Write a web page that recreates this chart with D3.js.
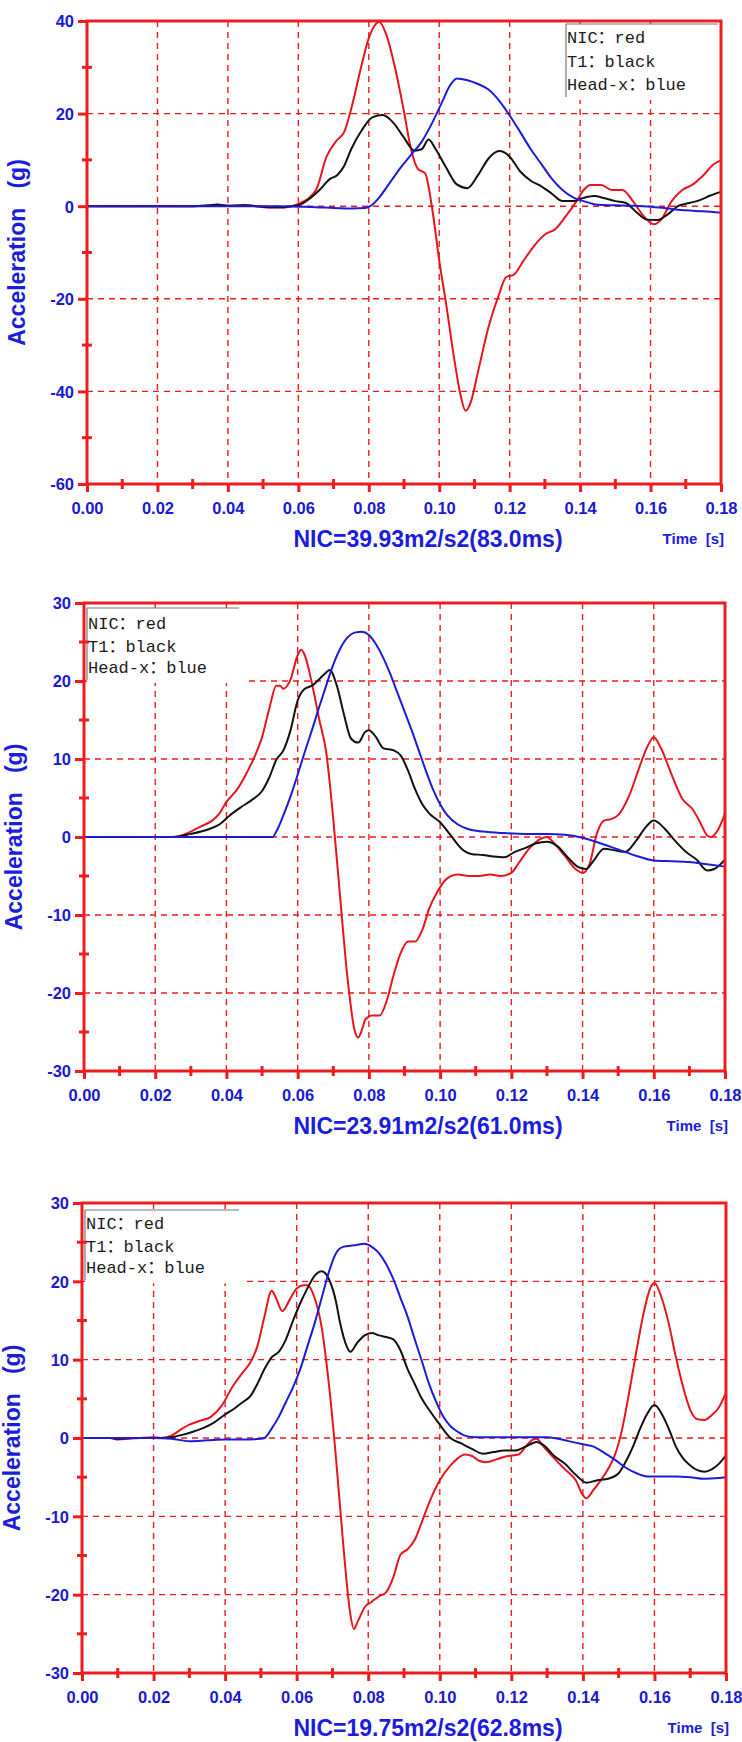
<!DOCTYPE html>
<html><head><meta charset="utf-8">
<script src="https://cdn.jsdelivr.net/npm/d3@7"></script>
<style>body{margin:0;background:#fff}svg{display:block}</style>
</head><body>
<svg id="c" width="742" height="1742"></svg>
<script>
// ---------- DATA ----------
const xTicks = [0, 0.02, 0.04, 0.06, 0.08, 0.10, 0.12, 0.14, 0.16, 0.18];
const xMinorTicks = [0.01, 0.03, 0.05, 0.07, 0.09, 0.11, 0.13, 0.15, 0.17];
const p1YTicks = [-60, -40, -20, 0, 20, 40];
const p1YMinor = [-50, -30, -10, 10, 30];
const p23YTicks = [-30, -20, -10, 0, 10, 20, 30];
const p23YMinor = [-25, -15, -5, 5, 15, 25];
const legendLabels = ["NIC：red", "T1：black", "Head-x：blue"];
const titles = ["NIC=39.93m2/s2(83.0ms)", "NIC=23.91m2/s2(61.0ms)", "NIC=19.75m2/s2(62.8ms)"];

// Panel 1
const p1Nic = [[0,0],[0.03,0],[0.035,0.2],[0.037,0.35],[0.040,0.1],[0.045,0.25],[0.048,0],[0.052,-0.3],[0.056,-0.3],[0.058,0],[0.060,0.5],[0.065,3.5],[0.068,10.7],[0.071,14.3],[0.073,16],[0.075,21],[0.078,30.6],[0.080,36.3],[0.083,39.8],[0.085,37],[0.088,28],[0.090,20.4],[0.092,12.3],[0.094,8],[0.096,7.1],[0.098,-0.5],[0.100,-11.7],[0.102,-21.3],[0.104,-31.7],[0.106,-40.6],[0.1075,-44.2],[0.109,-42.2],[0.111,-35.8],[0.114,-26.1],[0.117,-19],[0.119,-15.3],[0.121,-14.9],[0.124,-11.7],[0.127,-8.5],[0.130,-6.1],[0.133,-4.9],[0.136,-2.1],[0.139,1.1],[0.141,3.5],[0.143,4.6],[0.146,4.6],[0.149,3.5],[0.152,3.5],[0.155,1.1],[0.158,-2.1],[0.161,-3.9],[0.163,-2.9],[0.166,1.1],[0.169,3.5],[0.172,4.7],[0.175,6.7],[0.178,9.1],[0.180,9.9]];
const p1T1 = [[0,0],[0.03,0],[0.035,0.2],[0.037,0.3],[0.040,0.1],[0.045,0.2],[0.048,0],[0.052,-0.2],[0.056,-0.2],[0.058,0],[0.060,0.2],[0.063,1.5],[0.066,3.5],[0.069,5.9],[0.071,6.7],[0.073,8.7],[0.075,12.3],[0.078,16.4],[0.081,19.2],[0.084,19.7],[0.087,18],[0.090,14.8],[0.093,12],[0.095,12.3],[0.097,14.4],[0.099,12.3],[0.102,8.3],[0.105,4.7],[0.108,3.9],[0.111,6.7],[0.114,10.3],[0.117,11.9],[0.120,10.7],[0.123,7.5],[0.126,5.5],[0.129,4.3],[0.132,2.7],[0.135,1.1],[0.138,1.1],[0.141,1.8],[0.144,2.2],[0.147,1.7],[0.150,1.1],[0.153,0.7],[0.156,-1.3],[0.159,-2.9],[0.162,-3.0],[0.165,-1.7],[0.168,0.1],[0.171,0.7],[0.174,1.3],[0.177,2.3],[0.180,3.1]];
const p1Head = [[0,0],[0.055,0],[0.060,-0.1],[0.065,-0.2],[0.070,-0.4],[0.075,-0.5],[0.079,-0.4],[0.081,0.3],[0.083,1.9],[0.086,5.1],[0.089,8.3],[0.092,11.1],[0.095,13.9],[0.098,18],[0.101,22.8],[0.103,26],[0.105,27.6],[0.108,27.2],[0.111,26.4],[0.114,25.2],[0.117,22.8],[0.120,19.6],[0.123,16],[0.126,12.3],[0.129,9.1],[0.132,5.9],[0.135,3.5],[0.138,1.9],[0.141,1.1],[0.145,0.3],[0.150,0.2],[0.155,0.1],[0.160,-0.1],[0.165,-0.5],[0.170,-0.9],[0.175,-1.1],[0.180,-1.4]];

// Panel 2
const p2Nic = [[0,0],[0.025,0],[0.028,0.3],[0.030,0.7],[0.033,1.4],[0.036,2.1],[0.038,3.0],[0.040,4.5],[0.043,6.1],[0.046,8.5],[0.048,10.4],[0.050,12.8],[0.052,16.4],[0.054,19.4],[0.055,19.4],[0.056,19],[0.058,20.2],[0.060,23.3],[0.061,24],[0.062,23.3],[0.064,19.7],[0.066,15.2],[0.068,10.9],[0.070,2.3],[0.072,-8.1],[0.074,-18.1],[0.076,-24.8],[0.077,-25.7],[0.078,-24.8],[0.079,-23.4],[0.081,-22.9],[0.083,-22.9],[0.085,-21],[0.087,-17.6],[0.089,-14.8],[0.091,-13.4],[0.093,-13.4],[0.095,-11.9],[0.097,-9.1],[0.099,-7.2],[0.102,-5.3],[0.105,-4.8],[0.108,-5.0],[0.111,-5.0],[0.114,-4.8],[0.117,-5.0],[0.120,-4.6],[0.122,-3.4],[0.125,-1.5],[0.128,-0.3],[0.130,0],[0.132,-0.8],[0.135,-2.4],[0.138,-4.1],[0.140,-4.6],[0.142,-3.4],[0.144,0.4],[0.146,2.1],[0.148,2.3],[0.150,2.8],[0.153,5.2],[0.156,9],[0.158,11.4],[0.160,12.8],[0.162,11.4],[0.165,8],[0.168,4.9],[0.171,3.5],[0.173,1.9],[0.175,0.2],[0.176,0],[0.178,0.9],[0.180,3.0]];
const p2T1 = [[0,0],[0.025,0],[0.030,0.4],[0.035,1.0],[0.038,1.6],[0.041,2.8],[0.044,3.8],[0.047,4.7],[0.050,5.9],[0.052,7.6],[0.054,9.9],[0.056,11.1],[0.058,13.7],[0.060,17.5],[0.062,19],[0.064,19.4],[0.066,20.2],[0.068,21.1],[0.069,21.4],[0.071,19.4],[0.073,15.7],[0.075,12.6],[0.077,12.1],[0.079,13.5],[0.080,13.7],[0.082,12.8],[0.084,11.4],[0.087,11.1],[0.089,10.4],[0.091,8.5],[0.093,6.1],[0.095,4.2],[0.097,3.0],[0.100,1.9],[0.103,0.2],[0.106,-1.5],[0.109,-2.2],[0.112,-2.3],[0.115,-2.5],[0.118,-2.6],[0.121,-1.9],[0.124,-1.4],[0.127,-0.8],[0.130,-0.6],[0.133,-1.2],[0.136,-2.7],[0.139,-3.9],[0.141,-4.1],[0.143,-3.1],[0.146,-1.5],[0.149,-1.7],[0.152,-1.9],[0.155,-0.5],[0.158,1.4],[0.160,2.1],[0.163,1.1],[0.166,-0.5],[0.169,-1.9],[0.172,-2.9],[0.175,-4.3],[0.177,-4.1],[0.180,-2.9]];
const p2Head = [[0,0],[0.053,0],[0.054,0.7],[0.056,2.8],[0.058,5.2],[0.060,8],[0.062,10.9],[0.064,13.7],[0.066,16.6],[0.068,19.4],[0.070,22.1],[0.072,24.2],[0.074,25.6],[0.076,26.2],[0.078,26.3],[0.080,25.9],[0.082,24.7],[0.084,23],[0.086,20.9],[0.088,18.5],[0.090,16.1],[0.092,13.7],[0.094,11.1],[0.096,8.5],[0.098,6.1],[0.100,4.2],[0.102,2.8],[0.105,1.6],[0.108,1.0],[0.112,0.7],[0.118,0.5],[0.124,0.4],[0.130,0.4],[0.135,0.3],[0.140,-0.1],[0.145,-0.8],[0.150,-1.6],[0.155,-2.4],[0.160,-3.0],[0.165,-3.1],[0.170,-3.2],[0.175,-3.5],[0.180,-3.8]];

// Panel 3
const p3Nic = [[0,0],[0.008,0],[0.010,-0.2],[0.013,-0.1],[0.016,0],[0.020,0.1],[0.022,0],[0.025,0.3],[0.028,1.2],[0.030,1.7],[0.033,2.2],[0.036,2.7],[0.039,4.1],[0.042,6.5],[0.045,8.4],[0.047,9.6],[0.049,11.7],[0.051,15.5],[0.053,18.8],[0.054,18.1],[0.056,16.2],[0.058,17.6],[0.060,19.1],[0.062,19.5],[0.063,19.5],[0.065,17.9],[0.067,14.1],[0.069,6.9],[0.071,-2.6],[0.073,-13.5],[0.075,-22.5],[0.076,-24.4],[0.077,-23.5],[0.079,-21.6],[0.081,-20.9],[0.083,-20.2],[0.085,-19.7],[0.087,-17.8],[0.089,-14.9],[0.091,-14.2],[0.093,-13.0],[0.095,-10.7],[0.097,-8.3],[0.100,-5.4],[0.103,-3.5],[0.105,-2.6],[0.107,-2.1],[0.109,-2.3],[0.111,-2.9],[0.113,-3.1],[0.116,-2.7],[0.119,-2.3],[0.122,-2.1],[0.124,-1.1],[0.126,-0.2],[0.127,-0.1],[0.129,-1.1],[0.132,-2.6],[0.135,-4.0],[0.138,-5.4],[0.140,-7.3],[0.141,-7.7],[0.143,-6.6],[0.145,-5.4],[0.147,-4.0],[0.149,-2.1],[0.151,1.2],[0.153,6],[0.155,11.2],[0.157,16],[0.159,19.3],[0.160,19.8],[0.162,17.9],[0.164,14.6],[0.166,10.3],[0.168,6.5],[0.170,3.6],[0.172,2.4],[0.174,2.3],[0.176,2.9],[0.178,3.9],[0.180,5.8]];
const p3T1 = [[0,0],[0.008,0],[0.010,-0.1],[0.014,0],[0.022,0],[0.025,0.1],[0.028,0.4],[0.031,0.8],[0.034,1.3],[0.037,2.0],[0.040,3.0],[0.043,3.9],[0.045,4.6],[0.047,5.3],[0.049,6.9],[0.051,8.8],[0.053,10.3],[0.055,11.0],[0.057,12.6],[0.059,15],[0.061,17.2],[0.063,19.1],[0.065,20.7],[0.067,21.3],[0.069,20.3],[0.071,17.4],[0.072,15],[0.074,11.7],[0.075,11.0],[0.077,12.2],[0.079,13.1],[0.081,13.4],[0.083,13.1],[0.085,12.9],[0.087,12.6],[0.089,11.2],[0.091,8.8],[0.093,6.9],[0.095,5.0],[0.097,3.6],[0.100,1.7],[0.103,0],[0.106,-0.7],[0.109,-1.4],[0.112,-2.0],[0.115,-1.8],[0.118,-1.6],[0.121,-1.6],[0.124,-1.1],[0.127,-0.5],[0.129,-0.9],[0.132,-2.3],[0.135,-3.3],[0.138,-4.7],[0.141,-5.7],[0.144,-5.4],[0.147,-5.2],[0.150,-4.5],[0.152,-3.0],[0.154,-1.1],[0.156,1.2],[0.158,3.1],[0.160,4.2],[0.162,3.1],[0.164,1.2],[0.166,-1.1],[0.168,-2.6],[0.170,-3.5],[0.172,-4.1],[0.174,-4.3],[0.176,-4.0],[0.178,-3.3],[0.180,-2.2]];
const p3Head = [[0,0],[0.020,0],[0.025,-0.1],[0.030,-0.4],[0.035,-0.3],[0.040,-0.2],[0.045,-0.2],[0.050,-0.1],[0.051,0],[0.053,1.2],[0.055,2.7],[0.057,4.6],[0.059,6.5],[0.061,8.8],[0.063,11.7],[0.065,14.6],[0.067,17.9],[0.069,21.2],[0.071,23.6],[0.073,24.4],[0.076,24.6],[0.079,24.8],[0.081,24.4],[0.083,23.6],[0.085,22.2],[0.087,20.3],[0.089,17.9],[0.091,15.5],[0.093,12.6],[0.095,9.8],[0.097,6.9],[0.099,4.6],[0.101,2.7],[0.103,1.5],[0.105,0.8],[0.107,0.3],[0.110,0.1],[0.120,0.1],[0.130,0.1],[0.133,-0.1],[0.136,-0.4],[0.140,-0.8],[0.143,-1.1],[0.146,-1.9],[0.149,-2.8],[0.152,-3.8],[0.155,-4.5],[0.158,-4.9],[0.162,-4.9],[0.166,-4.9],[0.170,-5.0],[0.174,-5.2],[0.178,-5.1],[0.180,-5.0]];

// ---------- LAYOUT ----------
const RED = "#ee1c1f", BLUE_TXT = "#1a1ad2", LINE_COLORS = ["#e8161c", "#111111", "#1c1cd8"];
const layouts = [
  {left:87, right:721, top:21,  bottom:484,  yDomain:[-60,40], yTicks:p1YTicks,  yMinor:p1YMinor,  series:[p1Nic,p1T1,p1Head], legend:{x:566, y:24, w:152, h:76, textY:[43,67,90]}},
  {left:84, right:725, top:603, bottom:1071, yDomain:[-30,30], yTicks:p23YTicks, yMinor:p23YMinor, series:[p2Nic,p2T1,p2Head], legend:{x:87, y:608, w:158, h:0, textY:[629,652,673], toY20:true}},
  {left:82, right:726, top:1203,bottom:1673, yDomain:[-30,30], yTicks:p23YTicks, yMinor:p23YMinor, series:[p3Nic,p3T1,p3Head], legend:{x:85, y:1210, w:160, h:0, textY:[1229,1252,1273], toY20:true}}
];

const svg = d3.select("#c");

layouts.forEach((L, i) => {
  const g = svg.append("g");
  const x = d3.scaleLinear().domain([0, 0.18]).range([L.left, L.right]);
  const y = d3.scaleLinear().domain(L.yDomain).range([L.bottom, L.top]);

  // grid
  const gx = xTicks.filter(v => v > 0 && v < 0.18);
  const gy = L.yTicks.filter(v => v > L.yDomain[0] && v < L.yDomain[1]);
  g.selectAll(".vg").data(gx).join("line")
    .attr("x1", d => x(d)).attr("x2", d => x(d)).attr("y1", L.top).attr("y2", L.bottom)
    .attr("stroke", RED).attr("stroke-width", 1.4).attr("stroke-dasharray", "6,5");
  g.selectAll(".hg").data(gy).join("line")
    .attr("x1", L.left).attr("x2", L.right).attr("y1", d => y(d)).attr("y2", d => y(d))
    .attr("stroke", RED).attr("stroke-width", 1.4).attr("stroke-dasharray", "6,5");

  // legend box (white, covers grid)
  const lg = L.legend;
  const lh = lg.toY20 ? (y(20) + 2 - lg.y) : lg.h;
  g.append("rect").attr("x", lg.x).attr("y", lg.y).attr("width", lg.w).attr("height", lh).attr("fill", "#fff");
  const topLen = lg.toY20 ? lg.w - 6 : lg.w;
  g.append("line").attr("x1", lg.x).attr("x2", lg.x + topLen).attr("y1", lg.y).attr("y2", lg.y).attr("stroke", "#777").attr("stroke-width", 1.2);
  g.append("line").attr("x1", lg.x).attr("x2", lg.x).attr("y1", lg.y).attr("y2", lg.y + lh - 3).attr("stroke", "#777").attr("stroke-width", 1.2);
  g.selectAll(".lt").data(legendLabels).join("text")
    .attr("x", lg.x + 1).attr("y", (d, k) => lg.textY[k])
    .attr("font-family", "'Liberation Mono','Noto Sans CJK SC',monospace").attr("font-size", 17)
    .attr("fill", "#1a1a1a").text(d => d);

  // curves
  const line = d3.line().x(d => x(d[0])).y(d => y(d[1])).curve(d3.curveMonotoneX);
  L.series.forEach((s, k) => {
    g.append("path").datum(s).attr("d", line).attr("fill", "none")
      .attr("stroke", LINE_COLORS[k]).attr("stroke-width", 2).attr("stroke-linejoin", "round");
  });

  // frame
  g.append("rect").attr("x", L.left).attr("y", L.top).attr("width", L.right - L.left).attr("height", L.bottom - L.top)
    .attr("fill", "none").attr("stroke", RED).attr("stroke-width", 3);

  // axes (major ticks)
  const ax = g.append("g").attr("transform", `translate(0,${L.bottom})`)
    .call(d3.axisBottom(x).tickValues(xTicks).tickFormat(d3.format(".2f")).tickSize(8).tickSizeOuter(0).tickPadding(6));
  const ay = g.append("g").attr("transform", `translate(${L.left},0)`)
    .call(d3.axisLeft(y).tickValues(L.yTicks).tickFormat(d3.format("d")).tickSize(9).tickSizeOuter(0).tickPadding(4));
  [ax, ay].forEach(a => {
    a.select(".domain").remove();
    a.selectAll("line").attr("stroke", RED).attr("stroke-width", 3);
    a.selectAll("text").attr("fill", BLUE_TXT).attr("font-family", "'Liberation Sans',Arial,sans-serif")
      .attr("font-weight", "bold").attr("font-size", 16.5);
  });
  ax.selectAll("text").attr("dy", "0.95em");
  ay.selectAll("text").attr("dy", "0.36em").text(d => String(d).replace("\u2212", "-"));

  // minor ticks (crossing the axis)
  g.selectAll(".mx").data(xMinorTicks).join("line")
    .attr("x1", d => x(d)).attr("x2", d => x(d)).attr("y1", L.bottom - 5).attr("y2", L.bottom + 5)
    .attr("stroke", RED).attr("stroke-width", 3);
  g.selectAll(".my").data(L.yMinor).join("line")
    .attr("x1", L.left - 5).attr("x2", L.left + 5).attr("y1", d => y(d)).attr("y2", d => y(d))
    .attr("stroke", RED).attr("stroke-width", 3);

  // y title
  const cy = (L.top + L.bottom) / 2, cx = L.left - 62;
  g.append("text").attr("transform", `translate(${cx},${cy}) rotate(-90)`)
    .attr("text-anchor", "middle").attr("font-family", "'Liberation Sans',Arial,sans-serif")
    .attr("font-weight", "bold").attr("font-size", 23).attr("fill", "#1c1cdc")
    .style("white-space", "pre").text("Acceleration   (g)");

  // bottom title
  g.append("text").attr("x", 428).attr("y", L.bottom + 63)
    .attr("text-anchor", "middle").attr("font-family", "'Liberation Sans',Arial,sans-serif")
    .attr("font-weight", "bold").attr("font-size", 23).attr("fill", "#1c1cdc").text(titles[i]);
  g.append("text").attr("x", L.right + 3).attr("y", L.bottom + 60)
    .attr("text-anchor", "end").attr("font-family", "'Liberation Sans',Arial,sans-serif")
    .attr("font-weight", "bold").attr("font-size", 15).attr("fill", "#1c1cdc")
    .style("white-space", "pre").text("Time  [s]");
});
</script>
</body></html>
